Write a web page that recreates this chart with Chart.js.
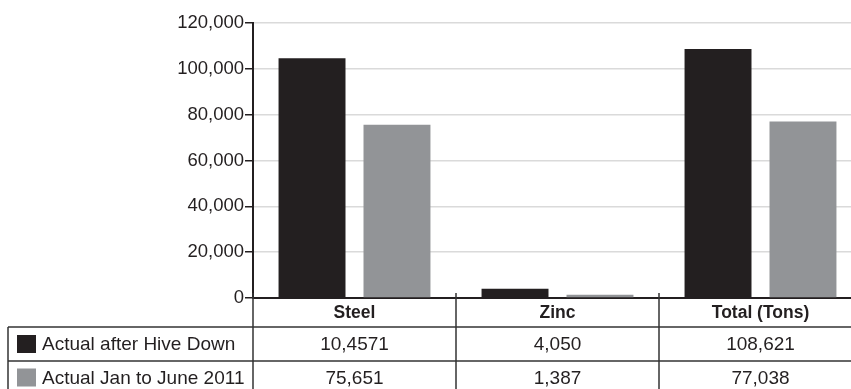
<!DOCTYPE html>
<html>
<head>
<meta charset="utf-8">
<script src="https://cdn.jsdelivr.net/npm/chart.js@4"></script>
<style>
  html, body { margin: 0; padding: 0; background: #fff; overflow: hidden; }
  #wrap { width: 863px; height: 389px; }
</style>
</head>
<body>
<div id="wrap"><canvas id="c" width="863" height="389"></canvas></div>
<script>
// Tonnage by product
const categories = ['Steel', 'Zinc', 'Total (Tons)'];
const seriesNames = ['Actual after Hive Down', 'Actual Jan to June 2011'];
const afterHiveDown = [104571, 4050, 108621];
const janToJune2011 = [75651, 1387, 77038];
// Figures printed in the data table under the axis
const afterHiveDownText = ['10,4571', '4,050', '108,621'];
const janToJune2011Text = ['75,651', '1,387', '77,038'];
const yTicks = [0, 20000, 40000, 60000, 80000, 100000, 120000];

const INK = '#231f20';
const GREY = '#929497';
const FONT = '"Liberation Sans", Arial, Helvetica, sans-serif';

// Data table drawn beneath the category axis
const dataTable = {
  id: 'dataTable',
  afterDraw(chart) {
    const ctx = chart.ctx;
    const area = chart.chartArea;
    const xs = chart.scales.x;
    const catW = area.width / categories.length;
    const top = area.bottom;
    const row1 = 327, row2 = 361, bottom = chart.height;
    const tableLeft = 8;
    ctx.save();
    ctx.strokeStyle = '#333';
    ctx.lineWidth = 1.5;
    // column separators
    for (let i = 0; i <= categories.length; i++) {
      const x = area.left + i * catW;
      ctx.beginPath();
      ctx.moveTo(x, top - 5);
      ctx.lineTo(x, bottom);
      ctx.stroke();
    }
    // row separators
    [row1, row2].forEach(y => {
      ctx.beginPath();
      ctx.moveTo(tableLeft, y);
      ctx.lineTo(chart.width, y);
      ctx.stroke();
    });
    ctx.beginPath();
    ctx.moveTo(tableLeft, row1);
    ctx.lineTo(tableLeft, bottom);
    ctx.stroke();

    ctx.fillStyle = INK;
    ctx.textBaseline = 'middle';
    ctx.textAlign = 'center';
    ctx.font = 'bold 17.5px ' + FONT;
    categories.forEach((c, i) => {
      ctx.fillText(c, xs.getPixelForValue(i), (top + row1) / 2 + 1);
    });
    ctx.font = '19px ' + FONT;
    const rows = [
      { text: afterHiveDownText, color: INK, y0: row1, y1: row2 },
      { text: janToJune2011Text, color: GREY, y0: row2, y1: bottom + 5 }
    ];
    rows.forEach((r, k) => {
      const cy = (r.y0 + r.y1) / 2;
      ctx.textAlign = 'center';
      ctx.fillStyle = INK;
      r.text.forEach((t, i) => ctx.fillText(t, xs.getPixelForValue(i), cy + 1));
      ctx.fillStyle = r.color;
      ctx.fillRect(17, cy - 9, 19, 18);
      ctx.fillStyle = INK;
      ctx.textAlign = 'left';
      ctx.fillText(seriesNames[k], 42, cy + 1);
    });
    ctx.restore();
  }
};

new Chart(document.getElementById('c'), {
  type: 'bar',
  data: {
    labels: categories,
    datasets: [
      { label: seriesNames[0], data: afterHiveDown, backgroundColor: INK },
      { label: seriesNames[1], data: janToJune2011, backgroundColor: GREY }
    ]
  },
  options: {
    responsive: false,
    animation: false,
    datasets: { bar: { categoryPercentage: 0.837, barPercentage: 0.788 } },
    layout: { padding: { top: 23, bottom: 83, left: 0, right: 1 } },
    plugins: { legend: { display: false }, tooltip: { enabled: false } },
    scales: {
      x: {
        ticks: { display: false },
        grid: { display: false },
        border: { display: true, color: INK, width: 2 }
      },
      y: {
        min: 0,
        max: 120000,
        afterBuildTicks: s => { s.ticks = yTicks.map(v => ({ value: v })); },
        afterFit: s => { s.width = 253; },
        ticks: {
          color: INK,
          padding: 1,
          font: { family: FONT, size: 18.5 },
          callback: v => v.toLocaleString('en-US')
        },
        grid: {
          color: ctx => (ctx.tick && ctx.tick.value === 0) ? 'rgba(0,0,0,0)' : '#dadada',
          lineWidth: 1.5,
          tickColor: INK,
          tickLength: 8,
          drawTicks: true
        },
        border: { display: true, color: INK, width: 2 }
      }
    }
  },
  plugins: [dataTable]
});
</script>
</body>
</html>
